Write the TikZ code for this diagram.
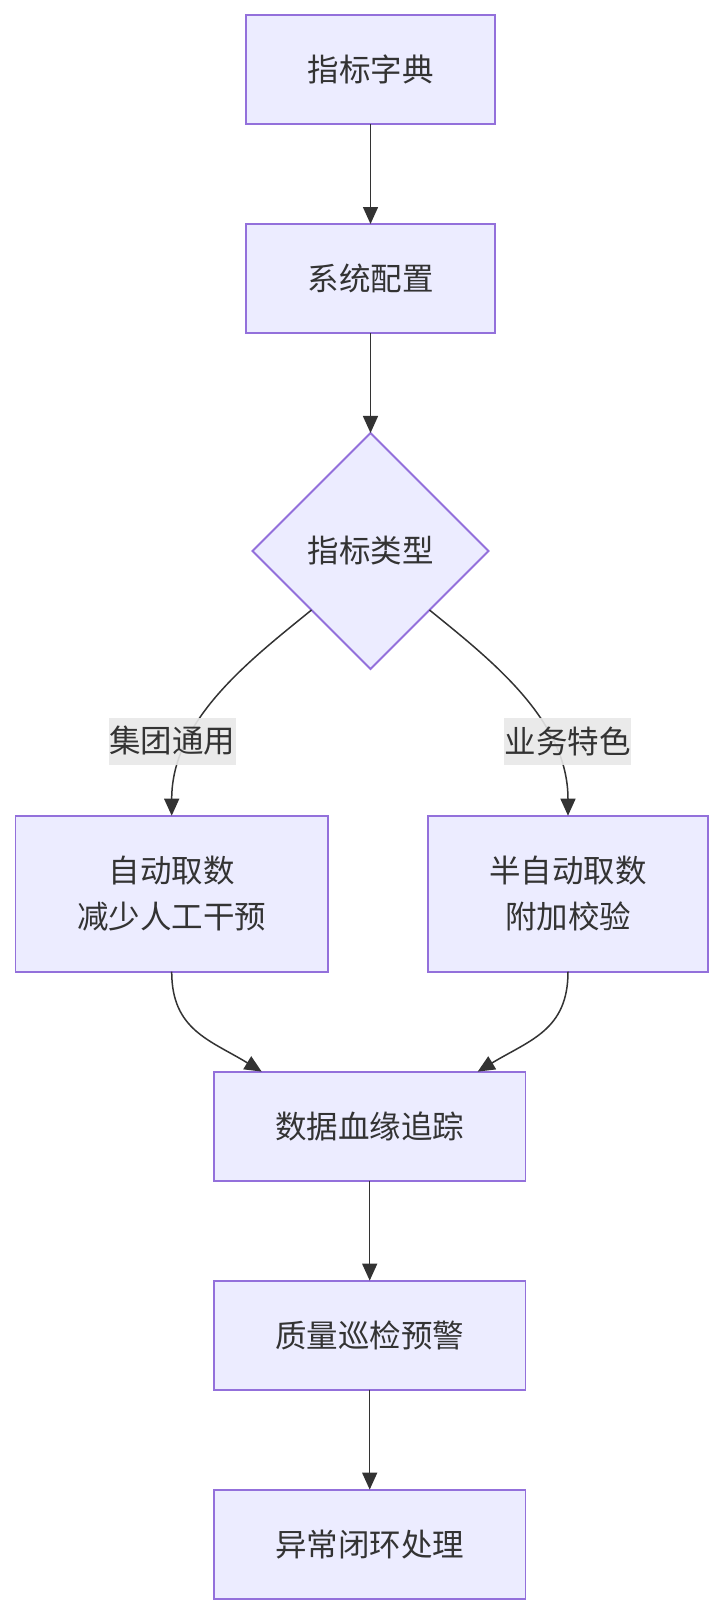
\documentclass[tikz,border=0pt]{standalone}
\usepackage{fontspec}
\setmainfont{Noto Sans CJK SC}
\usepackage{tikz}
\usetikzlibrary{arrows.meta, positioning, shapes.geometric}

\definecolor{boxfill}{HTML}{ECECFF}
\definecolor{boxline}{HTML}{9370DB}
\definecolor{edgeline}{HTML}{333333}
\definecolor{labelfill}{HTML}{E8E8E8}

\begin{document}
\begin{tikzpicture}[
    x=1pt, y=1pt,
    font=\fontsize{31.5}{46.3}\selectfont,
    block/.style={draw=boxline, fill=boxfill, line width=1.8pt, rectangle, minimum width=249pt, minimum height=109pt, align=center, text=edgeline, inner sep=0pt, outer sep=0pt},
    decision/.style={draw=boxline, fill=boxfill, line width=1.8pt, diamond, minimum width=236pt, minimum height=236pt, inner sep=0pt, outer sep=0pt, text=edgeline},
    arrow/.style={-{Triangle[length=17pt, width=15pt]}, draw=edgeline, line width=1.5pt},
    edgelabel/.style={fill=labelfill, fill opacity=0.9, text opacity=1, text=edgeline, inner xsep=0.5pt, inner ysep=0pt, minimum height=47pt}
]
\useasboundingbox (0,0) rectangle (724,-1612);

% Setup chain
\node[block] (dict) at (370.5,-69.5) {指标字典};
\node[block, below=100pt of dict] (cfg) {系统配置};
\node[decision, below=100pt of cfg] (type) {指标类型};

% Two branches
\node[block, minimum width=312.6pt, minimum height=156pt] (auto) at (171.7,-893.7) {自动取数\\减少人工干预};
\node[block, minimum width=280.7pt, minimum height=156pt] (semi) at (568,-893.7) {半自动取数\\附加校验};

% Tracking chain
\node[block, minimum width=311.6pt] (trace) at (369.7,-1126.1) {数据血缘追踪};
\node[block, minimum width=311.6pt, below=100pt of trace] (check) {质量巡检预警};
\node[block, minimum width=311.6pt, below=100pt of check] (close) {异常闭环处理};

% Arrows: setup
\draw[arrow] (dict) -- (cfg);
\draw[arrow] (cfg) -- (type);

% Arrows: branches
\draw[arrow] (type.south west) .. controls (250,-660) and (171.7,-720) .. (auto);
\draw[arrow] (type.south east) .. controls (491,-660) and (568,-720) .. (semi);
\draw[arrow] (auto) .. controls (171.7,-1030) and (210,-1040) .. ([xshift=-108pt]trace.north);
\draw[arrow] (semi) .. controls (568,-1030) and (530,-1040) .. ([xshift=108pt]trace.north);

% Arrows: tracking
\draw[arrow] (trace) -- (check);
\draw[arrow] (check) -- (close);

% Branch labels
\node[edgelabel] (group) at (172,-741) {集团通用};
\node[edgelabel] (local) at (567.6,-741) {业务特色};

\end{tikzpicture}
\end{document}
